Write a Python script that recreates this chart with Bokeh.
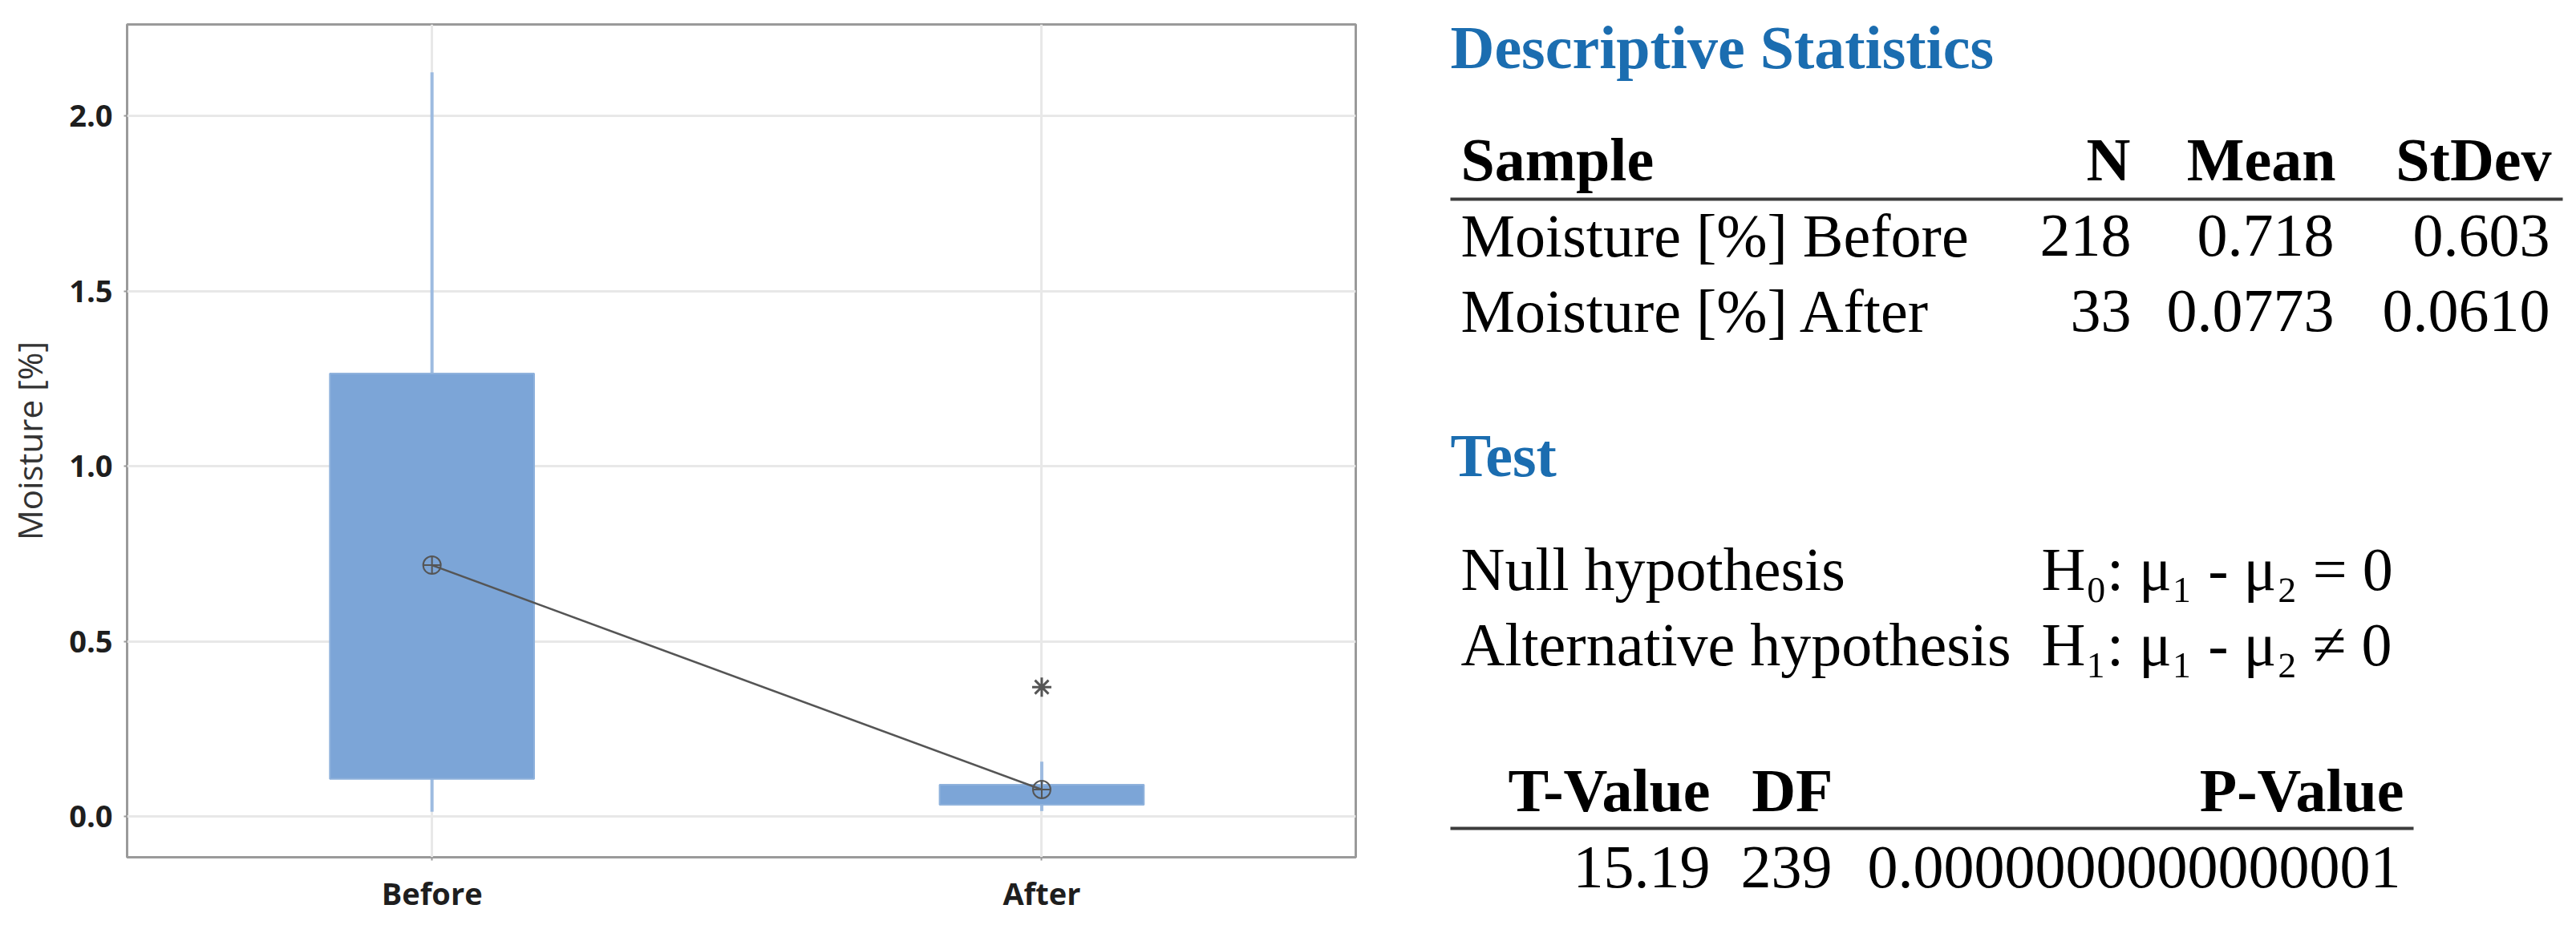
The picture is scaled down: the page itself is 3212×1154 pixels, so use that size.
from bokeh.plotting import figure
from bokeh.layouts import row, column
from bokeh.models import Range1d, FixedTicker, PrintfTickFormatter, Label
from bokeh.embed import file_html
from bokeh.resources import INLINE

# ---------------- data ----------------
categories = ["Before", "After"]
cat_pos = [1, 2]
q1 = [0.108, 0.034]
q3 = [1.265, 0.091]
whisker_low = [0.014, 0.016]
whisker_high = [2.125, 0.157]
means = [0.718, 0.0773]
outlier_pos = [2]
outlier_vals = [0.370]
y_ticks = [0.0, 0.5, 1.0, 1.5, 2.0]

samples = ["Moisture [%] Before", "Moisture [%] After"]
n_vals = ["218", "33"]
mean_vals = ["0.718", "0.0773"]
stdev_vals = ["0.603", "0.0610"]
desc_headers = ["Sample", "N", "Mean", "StDev"]
hyp_names = ["Null hypothesis", "Alternative hypothesis"]
hyp_exprs = ["H\u2080: \u03bc\u2081 - \u03bc\u2082 = 0", "H\u2081: \u03bc\u2081 - \u03bc\u2082 \u2260 0"]
test_headers = ["T-Value", "DF", "P-Value"]
test_values = ["15.19", "239", "0.0000000000000001"]

# ---------------- box plot ----------------
H = 1144
TOP, BOTTOM = 30, 75
p1 = figure(width=1708, height=H, output_backend="svg", toolbar_location=None,
            x_range=Range1d(0.5, 2.515), y_range=Range1d(-0.116, 2.262),
            min_border_left=158, min_border_right=18, min_border_top=TOP, min_border_bottom=BOTTOM)
p1.background_fill_color = "white"
p1.border_fill_color = "white"
p1.outline_line_color = "#9a9a9a"
p1.outline_line_width = 3

p1.xgrid.ticker = FixedTicker(ticks=cat_pos)
p1.ygrid.ticker = FixedTicker(ticks=y_ticks)
p1.grid.grid_line_color = "#e8e8e8"
p1.grid.grid_line_width = 3

p1.xaxis.ticker = FixedTicker(ticks=cat_pos)
p1.xaxis.major_label_overrides = {1: categories[0], 2: categories[1]}
p1.yaxis.ticker = FixedTicker(ticks=y_ticks)
p1.yaxis.formatter = PrintfTickFormatter(format="%.1f")
for ax in (p1.xaxis[0], p1.yaxis[0]):
    ax.axis_line_color = None
    ax.major_tick_line_color = "#9a9a9a"
    ax.major_tick_line_width = 2
    ax.major_tick_out = 4
    ax.major_tick_in = 0
    ax.minor_tick_line_color = None
    ax.major_label_text_font = "Open Sans"
    ax.major_label_text_font_style = "bold"
    ax.major_label_text_font_size = "38px"
    ax.major_label_text_color = "#1e1e1e"
p1.xaxis.major_label_standoff = 14
p1.yaxis.major_label_standoff = 14
p1.yaxis.axis_label = "Moisture [%]"
p1.yaxis.axis_label_text_font = "Open Sans"
p1.yaxis.axis_label_text_font_style = "normal"
p1.yaxis.axis_label_text_font_size = "42px"
p1.yaxis.axis_label_text_color = "#333333"
p1.yaxis.axis_label_standoff = 18

box_fill = "#7ca5d7"
whisk_col = "#9dbbe0"
p1.segment(x0=cat_pos, y0=whisker_low, x1=cat_pos, y1=q1, line_color=whisk_col, line_width=4)
p1.segment(x0=cat_pos, y0=q3, x1=cat_pos, y1=whisker_high, line_color=whisk_col, line_width=4)
p1.vbar(x=cat_pos, width=0.335, bottom=q1, top=q3, fill_color=box_fill,
        line_color="#8fb2dc", line_width=2)
p1.line(x=cat_pos, y=means, line_color="#555555", line_width=2.5)
p1.scatter(x=cat_pos, y=means, marker="circle_cross", size=22, fill_color=None,
           line_color="#555555", line_width=2)
p1.scatter(x=outlier_pos, y=outlier_vals, marker="asterisk", size=24,
           line_color="#555555", line_width=3)

# ---------------- statistics text panel ----------------
X0 = 1708
W2 = 3212 - X0
p2 = figure(width=W2, height=H, output_backend="svg", toolbar_location=None,
            x_range=Range1d(X0, X0 + W2), y_range=Range1d(H, 0),
            x_axis_location=None, y_axis_location=None,
            min_border_left=0, min_border_right=0,
            min_border_top=0, min_border_bottom=0)
p2.grid.visible = False
p2.outline_line_color = None
p2.background_fill_color = "white"
p2.border_fill_color = "white"

FS = "76px"
BLUE = "#1b6db0"
DY = -28  # baseline correction for the renderer

def txt(xs, ys, texts, align="left", bold=False, color="#000000"):
    p2.text(x=xs, y=[y + DY for y in ys], text=texts,
            text_font={"value": "Liberation Serif"}, text_font_size=FS,
            text_font_style="bold" if bold else "normal",
            text_align=align, text_baseline="alphabetic", text_color=color)

# headings
txt([1808], [86], ["Descriptive Statistics"], bold=True, color=BLUE)
txt([1808], [595], ["Test"], bold=True, color=BLUE)

# descriptive table
txt([1821], [226], [desc_headers[0]], bold=True)
txt([2656, 2912, 3181], [226, 226, 226], desc_headers[1:], align="right", bold=True)
p2.segment(x0=[1808], y0=[248], x1=[3195], y1=[248], line_color="#3c3c3c", line_width=4)
row_y = [321, 415]
txt([1821, 1821], row_y, samples)
txt([2657, 2657], row_y, n_vals, align="right")
txt([2910, 2910], row_y, mean_vals, align="right")
txt([3179, 3179], row_y, stdev_vals, align="right")

# hypotheses
hyp_y = [737, 831]
txt([1821, 1821], hyp_y, hyp_names)
txt([2545, 2545], hyp_y, hyp_exprs)

# test table
txt([2132, 2285, 2997], [1013, 1013, 1013], test_headers, align="right", bold=True)
p2.segment(x0=[1808], y0=[1033], x1=[3009], y1=[1033], line_color="#3c3c3c", line_width=4)
txt([2132, 2284, 2993], [1109, 1109, 1109], test_values, align="right")

layout = row(p1, column(p2))
open("out.html", "w").write(file_html(layout, INLINE))
